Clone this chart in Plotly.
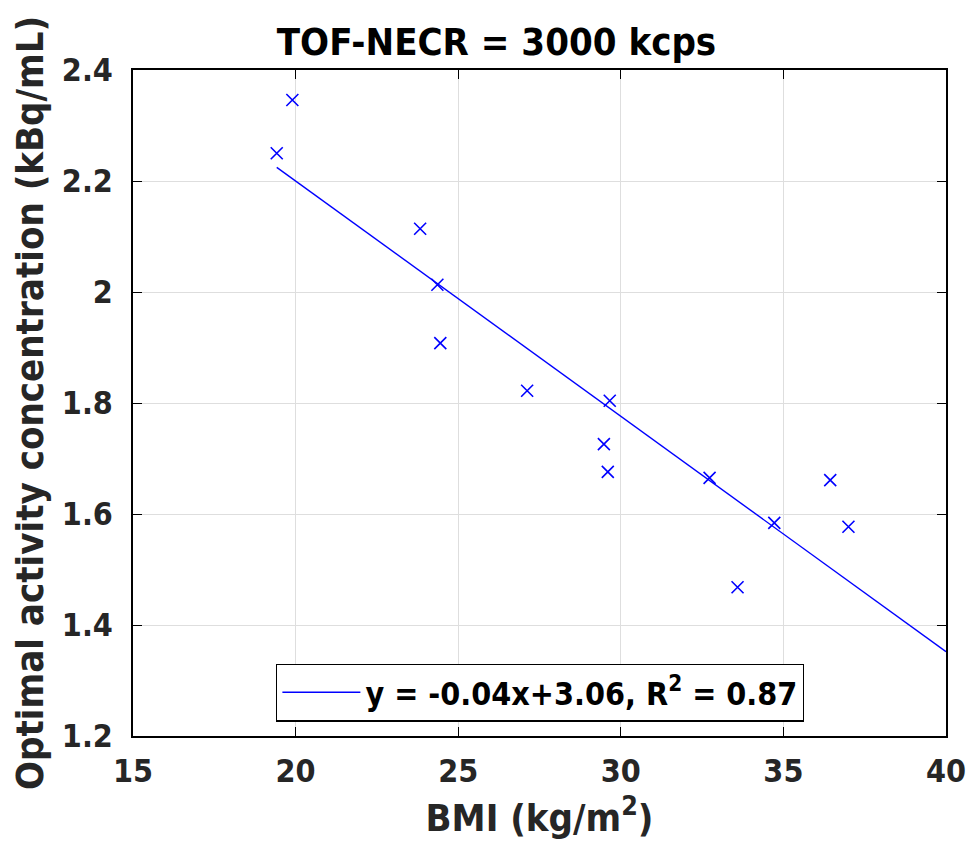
import plotly.graph_objects as go

# Data
bmi = [19.42, 19.90, 23.83, 24.36, 24.45, 27.12, 29.66, 29.48, 29.60, 32.73, 34.72, 33.59, 36.44, 37.00]
conc = [2.250, 2.346, 2.114, 2.013, 1.908, 1.822, 1.804, 1.726, 1.676, 1.665, 1.584, 1.468, 1.661, 1.577]

fit_slope = -0.0424
fit_intercept = 3.048
fit_x = [19.42, 40.0]
fit_label = "y = -0.04x+3.06, R<sup>2</sup> = 0.87"

x_ticks = [15, 20, 25, 30, 35, 40]
y_ticks = [1.2, 1.4, 1.6, 1.8, 2.0, 2.2, 2.4]
y_tick_text = ["1.2", "1.4", "1.6", "1.8", "2", "2.2", "2.4"]

FONT = "DejaVu Sans Condensed, DejaVu Sans, sans-serif"
BLUE = "rgb(0,0,255)"
DARK = "rgb(38,38,38)"

fig = go.Figure()
fig.add_trace(go.Scatter(
    x=bmi, y=conc, mode="markers", showlegend=False,
    marker=dict(symbol="x-thin", size=12, line=dict(color=BLUE, width=1.6), color=BLUE),
))
fig.add_trace(go.Scatter(
    x=fit_x, y=[fit_slope * v + fit_intercept for v in fit_x], mode="lines",
    name="<b>" + fit_label + "</b>", line=dict(color=BLUE, width=1.4),
))

axis_common = dict(
    showline=True, linecolor="black", linewidth=1.5, mirror="ticks",
    ticks="inside", ticklen=9, tickcolor="black", tickwidth=1.3,
    showgrid=True, gridcolor="rgb(222,222,222)", gridwidth=1,
    zeroline=False,
    tickfont=dict(family=FONT, size=32, color=DARK, weight="bold"),
)

fig.update_layout(
    width=977, height=844,
    margin=dict(l=125, r=39, t=62, b=116),
    paper_bgcolor="white", plot_bgcolor="white",
    title=dict(text="<b>TOF-NECR = 3000 kcps</b>", x=0.5, xanchor="center",
               y=0.96, yanchor="middle",
               font=dict(family=FONT, size=38, color="black")),
    font=dict(family=FONT),
    xaxis=dict(range=[15, 40], tickvals=x_ticks, ticklabelstandoff=6,
               title=dict(text="<b>BMI (kg/m<sup>2</sup>)</b>", standoff=8,
                          font=dict(family=FONT, size=38, color=DARK)),
               **axis_common),
    yaxis=dict(range=[1.2, 2.4], tickvals=y_ticks, ticktext=y_tick_text, ticklabelstandoff=12,
               title=dict(text="<b>Optimal activity concentration (kBq/mL)</b>", standoff=8,
                          font=dict(family=FONT, size=38, color=DARK)),
               **axis_common),
    legend=dict(x=0.176, y=0.065, xanchor="left", yanchor="middle",
                bgcolor="white", bordercolor="black", borderwidth=1.3,
                itemwidth=78,
                font=dict(family=FONT, size=32, color="black")),
)

fig.write_html("out.html")
